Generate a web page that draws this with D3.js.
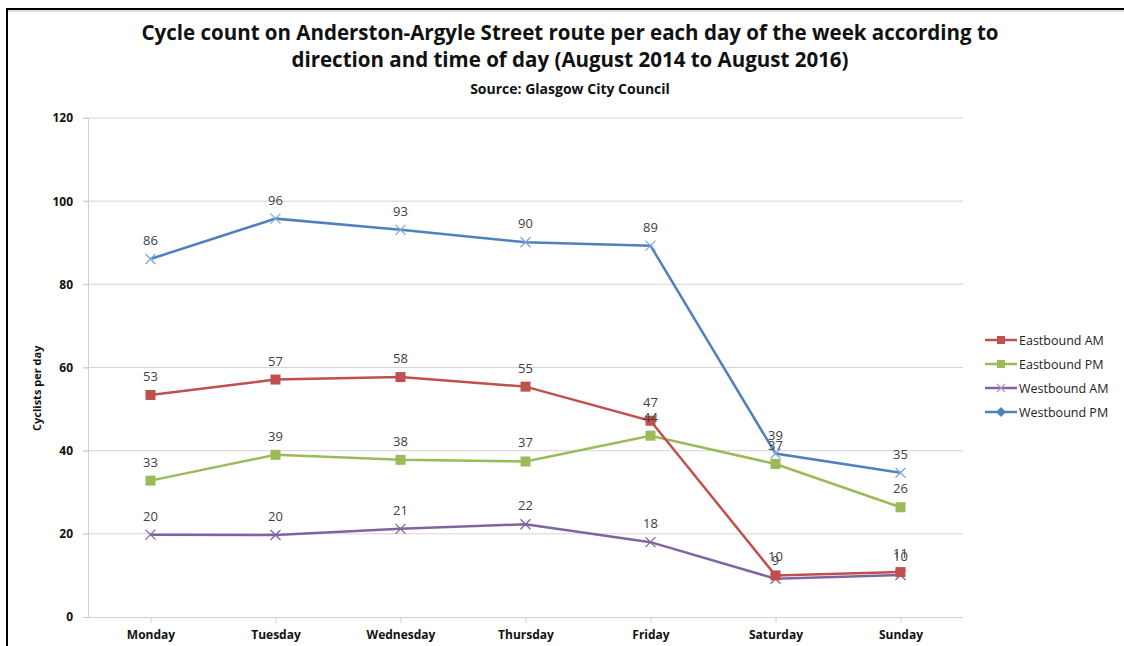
<!DOCTYPE html>
<html>
<head>
<meta charset="utf-8">
<script src="https://cdn.jsdelivr.net/npm/d3@7"></script>
<style>
  body { margin: 0; background: #fff; }
  text { font-family: "Open Sans", "DejaVu Sans", sans-serif; }
</style>
</head>
<body>
<div id="chart"></div>
<script>
// data
const days = ["Monday", "Tuesday", "Wednesday", "Thursday", "Friday", "Saturday", "Sunday"];
const eastboundAM = [53.4, 57.1, 57.7, 55.4, 47.2, 10.0, 10.8];
const eastboundPM = [32.8, 39.0, 37.8, 37.4, 43.6, 36.8, 26.4];
const westboundAM = [19.8, 19.7, 21.2, 22.3, 18.0, 9.2, 10.1];
const westboundPM = [86.1, 95.8, 93.1, 90.1, 89.3, 39.3, 34.7];
const yTicks = [0, 20, 40, 60, 80, 100, 120];

const series = [
  {name: "Eastbound AM", values: eastboundAM, color: "#c0504d", marker: "square", legend: "square"},
  {name: "Eastbound PM", values: eastboundPM, color: "#9bbb59", marker: "square", legend: "square"},
  {name: "Westbound AM", values: westboundAM, color: "#8064a2", marker: "cross", legend: "cross"},
  {name: "Westbound PM", values: westboundPM, color: "#4f81bd", marker: "cross", legend: "diamond"}
];

const W = 1124, H = 646;
const margin = {top: 118, right: 161, bottom: 29, left: 88};

const svg = d3.select("#chart").append("svg")
    .attr("width", W).attr("height", H);

// frame (top and left edges visible)
svg.append("line").attr("x1", 7).attr("x2", W).attr("y1", 9).attr("y2", 9)
    .attr("stroke", "#000").attr("stroke-width", 2);
svg.append("line").attr("x1", 7).attr("x2", W).attr("y1", 11).attr("y2", 11)
    .attr("stroke", "#bbb").attr("stroke-width", 1);
svg.append("line").attr("x1", 7).attr("x2", 7).attr("y1", 8).attr("y2", H)
    .attr("stroke", "#000").attr("stroke-width", 2);

// titles
svg.append("text").attr("x", 570).attr("y", 40).attr("text-anchor", "middle")
    .style("font-size", "20.5px").style("font-weight", "bold").attr("fill", "#111")
    .text("Cycle count on Anderston-Argyle Street route per each day of the week according to");
svg.append("text").attr("x", 570).attr("y", 67).attr("text-anchor", "middle")
    .style("font-size", "20.5px").style("font-weight", "bold").attr("fill", "#111")
    .text("direction and time of day (August 2014 to August 2016)");
svg.append("text").attr("x", 570).attr("y", 94).attr("text-anchor", "middle")
    .style("font-size", "14px").style("font-weight", "bold").attr("fill", "#111")
    .text("Source: Glasgow City Council");

const x = d3.scalePoint()
    .domain(days)
    .range([margin.left, W - margin.right])
    .padding(0.5);

const y = d3.scaleLinear()
    .domain([0, 120])
    .range([H - margin.bottom, margin.top]);

// gridlines
svg.append("g")
  .selectAll("line")
  .data(yTicks.slice(1))
  .join("line")
    .attr("x1", margin.left - 5).attr("x2", W - margin.right)
    .attr("y1", d => y(d)).attr("y2", d => y(d))
    .attr("stroke", "#d4d4d4").attr("stroke-width", 1);

// y axis
const yAxis = svg.append("g")
    .attr("transform", `translate(${margin.left},0)`)
    .call(d3.axisLeft(y).tickValues(yTicks).tickSize(5).tickPadding(10));
yAxis.select(".domain").attr("stroke", "#d0d0d0");
yAxis.selectAll(".tick line").attr("stroke", "#d0d0d0");
yAxis.selectAll(".tick text").style("font-size", "12px").style("font-weight", "bold")
    .attr("fill", "#111").style("font-family", "'Open Sans', sans-serif");

// x axis
const xAxis = svg.append("g")
    .attr("transform", `translate(0,${H - margin.bottom})`)
    .call(d3.axisBottom(x).tickSize(6).tickPadding(7).tickSizeOuter(0));
xAxis.select(".domain").attr("stroke", "#d0d0d0").attr("d", `M${margin.left - 5},0.5H${W - margin.right}`);
xAxis.selectAll(".tick line").attr("stroke", "#d0d0d0");
xAxis.selectAll(".tick text").style("font-size", "12px").style("font-weight", "bold")
    .attr("fill", "#111").style("font-family", "'Open Sans', sans-serif");

// y axis title
svg.append("text")
    .attr("transform", `translate(41,${y(55)}) rotate(-90)`)
    .attr("text-anchor", "middle")
    .style("font-size", "11px").style("font-weight", "bold").attr("fill", "#111")
    .text("Cyclists per day");

const line = d3.line()
    .x((d, i) => x(days[i]))
    .y(d => y(d));

function drawMarker(g, type, color, size) {
  if (type === "square") {
    g.append("rect").attr("x", -size / 2).attr("y", -size / 2)
      .attr("width", size).attr("height", size).attr("fill", color);
  } else if (type === "cross") {
    const s = size / 2;
    g.append("path").attr("d", `M${-s},${-s}L${s},${s}M${-s},${s}L${s},${-s}`)
      .attr("stroke", color).attr("stroke-width", 1.3).attr("fill", "none");
  } else if (type === "diamond") {
    const s = size / 2 + 1;
    g.append("path").attr("d", `M0,${-s}L${s},0L0,${s}L${-s},0Z`).attr("fill", color);
  }
}

// series lines and markers
const markerColor = {"Westbound PM": "#7fa7dc"};
series.slice().reverse().forEach(s => {
  svg.append("path")
    .datum(s.values)
    .attr("fill", "none")
    .attr("stroke", s.color)
    .attr("stroke-width", 2.5)
    .attr("d", line);
  s.values.forEach((v, i) => {
    const g = svg.append("g").attr("transform", `translate(${x(days[i])},${y(v)})`);
    drawMarker(g, s.marker, markerColor[s.name] || s.color, 10);
  });
});

// data labels
series.forEach(s => {
  svg.append("g")
    .selectAll("text")
    .data(s.values)
    .join("text")
      .attr("x", (d, i) => x(days[i]))
      .attr("y", d => y(d) - 14)
      .attr("text-anchor", "middle")
      .style("font-size", "13px")
      .attr("fill", "#404040")
      .text(d => Math.round(d));
});

// legend
const legend = svg.append("g").attr("transform", "translate(985,340)");
series.forEach((s, i) => {
  const g = legend.append("g").attr("transform", `translate(0,${i * 24})`);
  g.append("line").attr("x1", 0).attr("x2", 32).attr("y1", 0).attr("y2", 0)
    .attr("stroke", s.color).attr("stroke-width", 2.5);
  const m = g.append("g").attr("transform", "translate(16,0)");
  drawMarker(m, s.legend, s.legend === "cross" ? "#a998c6" : s.color, 8);
  g.append("text").attr("x", 34).attr("y", 4.5)
    .style("font-size", "12.5px").attr("fill", "#222")
    .text(s.name);
});
</script>
</body>
</html>
